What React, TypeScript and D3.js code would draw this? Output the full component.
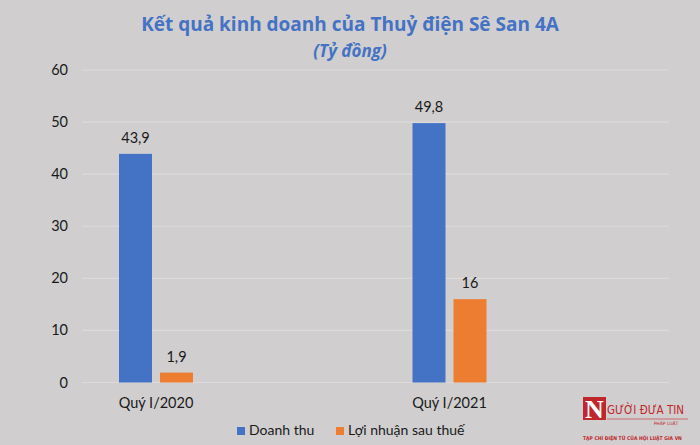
import React from "react";
import * as d3 from "d3";

const categories = ["Quý I/2020", "Quý I/2021"];
const seriesNames = ["Doanh thu", "Lợi nhuận sau thuế"];
const doanhThu = [43.9, 49.8];
const loiNhuan = [1.9, 16];
const yTicks = [0, 10, 20, 30, 40, 50, 60];
const colors = ["#4472C4", "#ED7D31"];

const W = 700;
const H = 445;
const font = "Lato, 'Noto Sans', sans-serif";

export default function App() {
  const values = [doanhThu, loiNhuan];
  const y = d3.scaleLinear().domain([0, 60]).range([382.5, 70]);
  const x0 = d3.scaleBand<string>().domain(categories).range([82, 669]).paddingInner(0);
  const x1 = d3.scaleBand<string>().domain(seriesNames).range([37, 111]).paddingInner(8 / 41);
  const fmt = (v: number) => String(v).replace(".", ",");
  const groupCenter = (c: string) => (x0(c) as number) + 74;

  return (
    <svg width={W} height={H} style={{ position: "absolute", left: 0, top: 0 }}>
      <rect x={0} y={0} width={W} height={H} fill="#d0cecf" />
      <text x={350} y={31} textAnchor="middle" fontFamily="'Open Sans', sans-serif" fontWeight={700} fontSize={19} fill="#4472C4">
        Kết quả kinh doanh của Thuỷ điện Sê San 4A
      </text>
      <text x={350} y={57} textAnchor="middle" fontFamily="'Open Sans', sans-serif" fontWeight={700} fontStyle="italic" fontSize={17} fill="#4472C4">
        (Tỷ đồng)
      </text>
      {yTicks.map((t) => (
        <g key={t}>
          <line x1={82} x2={669} y1={y(t)} y2={y(t)} stroke="#dcdadb" strokeWidth={1.2} />
          <text x={68} y={y(t) + 5} textAnchor="end" fontFamily={font} fontSize={14.5} fill="#1a1a1a">
            {t}
          </text>
        </g>
      ))}
      {categories.map((c, ci) => (
        <g key={c} transform={`translate(${x0(c)},0)`}>
          {seriesNames.map((s, si) => {
            const v = values[si][ci];
            const bx = x1(s) as number;
            const bw = x1.bandwidth();
            return (
              <g key={s}>
                <rect x={bx} y={y(v)} width={bw} height={y(0) - y(v)} fill={colors[si]} />
                <text x={bx + bw / 2} y={y(v) - 11} textAnchor="middle" fontFamily={font} fontSize={14.5} fill="#1a1a1a">
                  {fmt(v)}
                </text>
              </g>
            );
          })}
        </g>
      ))}
      {categories.map((c) => (
        <text key={c} x={groupCenter(c)} y={408} textAnchor="middle" fontFamily={font} fontSize={14.5} fill="#1a1a1a">
          {c}
        </text>
      ))}
      {seriesNames.map((s, i) => {
        const lx = [237, 336][i];
        return (
          <g key={s}>
            <rect x={lx} y={427} width={8} height={8} fill={colors[i]} />
            <text x={lx + 12} y={435} fontFamily={font} fontSize={14} fill="#1a1a1a">
              {s}
            </text>
          </g>
        );
      })}
      <g>
        <rect x={583} y={397} width={23} height={23} fill="#c0272d" />
        <text x={594.5} y={418} textAnchor="middle" fontFamily="'Liberation Serif', serif" fontWeight={700} fontSize={26} fill="#ffffff">
          N
        </text>
        <text x={607} y={414} fontFamily="'DejaVu Sans Condensed', 'DejaVu Sans', sans-serif" fontSize={11.5} fill="#c0272d">
          GƯỜI ĐƯA TIN
        </text>
        <line x1={607} x2={688} y1={419} y2={419} stroke="#c0272d" strokeWidth={0.6} />
        <text x={666} y={424.5} textAnchor="middle" fontFamily="'DejaVu Sans', sans-serif" fontSize={4.5} fill="#c0272d">
          PHÁP LUẬT
        </text>
        <text x={583} y={440} fontFamily="'DejaVu Sans Condensed', sans-serif" fontWeight={700} fontSize={5} fill="#c0272d">
          TẠP CHÍ ĐIỆN TỬ CỦA HỘI LUẬT GIA VN
        </text>
      </g>
    </svg>
  );
}
